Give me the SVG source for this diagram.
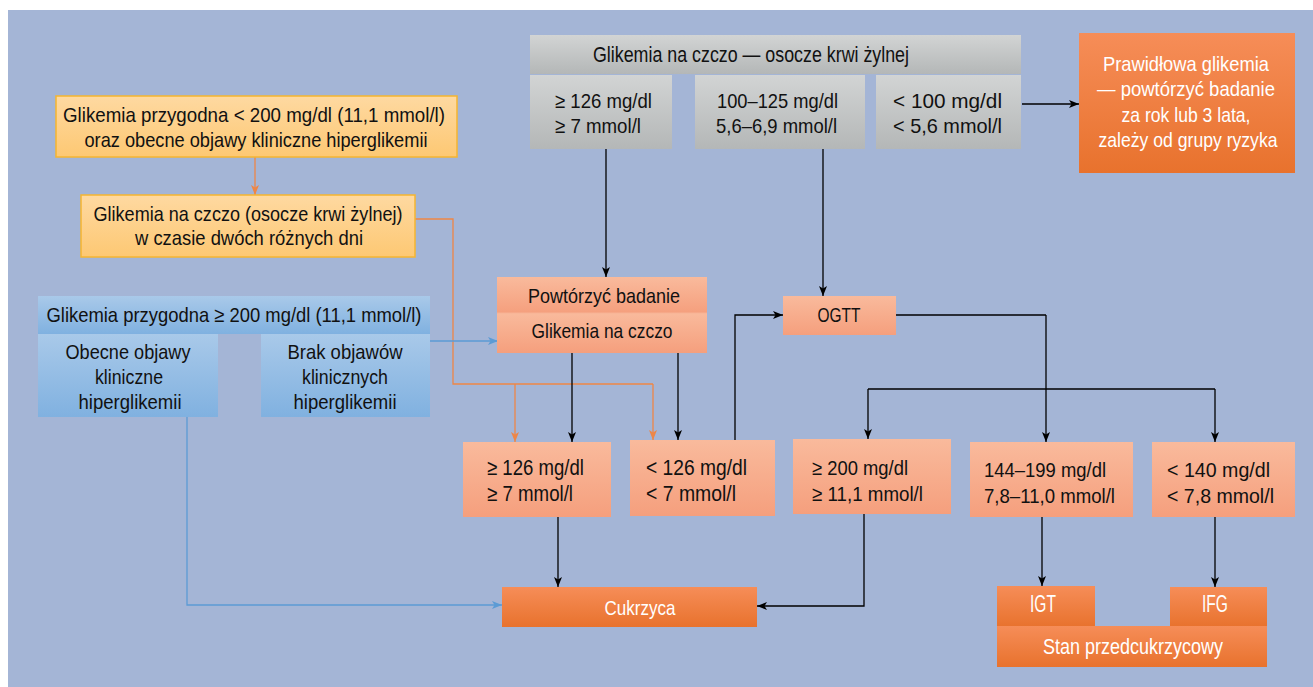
<svg xmlns="http://www.w3.org/2000/svg" width="1313" height="687" viewBox="0 0 1313 687">
<defs>
<linearGradient id="gGray" x1="0" y1="0" x2="0" y2="1"><stop offset="0" stop-color="#d2d4d4"/><stop offset="1" stop-color="#b4b7b7"/></linearGradient>
<linearGradient id="gSalmon" x1="0" y1="0" x2="0" y2="1"><stop offset="0" stop-color="#f9ba9c"/><stop offset="1" stop-color="#f59f7d"/></linearGradient>
<linearGradient id="gOrange" x1="0" y1="0" x2="0" y2="1"><stop offset="0" stop-color="#f68d58"/><stop offset="1" stop-color="#e8722d"/></linearGradient>
<linearGradient id="gYellow" x1="0" y1="0" x2="0" y2="1"><stop offset="0" stop-color="#fed9a1"/><stop offset="1" stop-color="#fdc873"/></linearGradient>
<linearGradient id="gBlue" x1="0" y1="0" x2="0" y2="1"><stop offset="0" stop-color="#a9c9e9"/><stop offset="1" stop-color="#80b1e0"/></linearGradient>
<marker id="aBlack" viewBox="0 0 10 10" refX="10" refY="5" markerWidth="10" markerHeight="10" markerUnits="userSpaceOnUse" orient="auto"><path d="M0,1 L10,5 L0,9 L2.5,5 z" fill="#000"/></marker>
<marker id="aOrange" viewBox="0 0 10 10" refX="10" refY="5" markerWidth="10" markerHeight="10" markerUnits="userSpaceOnUse" orient="auto"><path d="M0,1 L10,5 L0,9 L2.5,5 z" fill="#ee8646"/></marker>
<marker id="aBlue" viewBox="0 0 10 10" refX="10" refY="5" markerWidth="10" markerHeight="10" markerUnits="userSpaceOnUse" orient="auto"><path d="M0,1 L10,5 L0,9 L2.5,5 z" fill="#5b9bd5"/></marker>
</defs>
<style>
text{font-family:"Liberation Sans",Arial,sans-serif;font-size:21px;fill:#111;}
.c{text-anchor:middle;}
.w{fill:#fff;}
.big{font-size:22px;}
.xl{font-size:23px;}
.gray{fill:url(#gGray);}
.sal{fill:url(#gSalmon);}
.org{fill:url(#gOrange);}
.yel{fill:url(#gYellow);stroke:#f5b530;stroke-width:1.5;}
.blu{fill:url(#gBlue);}
.lk{fill:none;stroke:#000;stroke-width:1.3;marker-end:url(#aBlack);}
.lkn{fill:none;stroke:#000;stroke-width:1.3;}
.lo{fill:none;stroke:#ee8646;stroke-width:1.3;marker-end:url(#aOrange);}
.lon{fill:none;stroke:#ee8646;stroke-width:1.3;}
.lb{fill:none;stroke:#5b9bd5;stroke-width:1.3;marker-end:url(#aBlue);}
</style>
<rect x="0" y="0" width="1313" height="687" fill="#fff"/>
<rect x="8" y="10" width="1305" height="677" fill="#a4b5d6"/>

<g id="connectors">
<path class="lk" d="M1022,104 H1079"/>
<path class="lk" d="M606,149 V277"/>
<path class="lk" d="M823,149 V296"/>
<path class="lo" d="M255,157 V195"/>
<path class="lon" d="M415,219 H453 V384 H653"/>
<path class="lo" d="M653,384 V440"/>
<path class="lo" d="M515,384 V442"/>
<path class="lb" d="M430,341 H498"/>
<path class="lb" d="M187,417 V605 H502"/>
<path class="lk" d="M572,353 V442"/>
<path class="lk" d="M678,353 V440"/>
<path class="lk" d="M735,440 V315 H783"/>
<path class="lkn" d="M896,315 H1046"/>
<path class="lk" d="M1046,315 V442"/>
<path class="lkn" d="M868,389 H1215"/>
<path class="lk" d="M868,389 V439"/>
<path class="lk" d="M1215,389 V442"/>
<path class="lk" d="M558,517 V587"/>
<path class="lk" d="M864,514 V606 H757"/>
<path class="lk" d="M1042,517 V586"/>
<path class="lk" d="M1215,517 V587"/>
</g>

<g id="n-fasting-header"><rect class="gray" x="530" y="35" width="491" height="39"/><text class="c big" x="751" y="62" textLength="316" lengthAdjust="spacingAndGlyphs">Glikemia na czczo — osocze krwi żylnej</text></g>
<g id="n-fast-high"><rect class="gray" x="530" y="75" width="142" height="74"/><text x="555" y="108" textLength="97" lengthAdjust="spacingAndGlyphs">≥ 126 mg/dl</text><text x="555" y="133" textLength="86" lengthAdjust="spacingAndGlyphs">≥ 7 mmol/l</text></g>
<g id="n-fast-mid"><rect class="gray" x="695" y="75" width="170" height="74"/><text x="717" y="108" textLength="121" lengthAdjust="spacingAndGlyphs">100–125 mg/dl</text><text x="716" y="133" textLength="121" lengthAdjust="spacingAndGlyphs">5,6–6,9 mmol/l</text></g>
<g id="n-fast-low"><rect class="gray" x="876" y="75" width="145" height="74"/><text x="893" y="108" textLength="109" lengthAdjust="spacingAndGlyphs">&lt; 100 mg/dl</text><text x="893" y="133" textLength="109" lengthAdjust="spacingAndGlyphs">&lt; 5,6 mmol/l</text></g>
<g id="n-normal"><rect class="org" x="1079" y="33" width="216" height="140"/>
<text class="c w" x="1186" y="71" textLength="166" lengthAdjust="spacingAndGlyphs">Prawidłowa glikemia</text>
<text class="c w" x="1186" y="96" textLength="178" lengthAdjust="spacingAndGlyphs">— powtórzyć badanie</text>
<text class="c w" x="1186" y="122" textLength="129" lengthAdjust="spacingAndGlyphs">za rok lub 3 lata,</text>
<text class="c w" x="1188" y="147" textLength="179" lengthAdjust="spacingAndGlyphs">zależy od grupy ryzyka</text></g>

<g id="n-random-low"><rect class="yel" x="56" y="96" width="401" height="61"/><text class="c" x="254" y="122" textLength="382" lengthAdjust="spacingAndGlyphs">Glikemia przygodna &lt; 200 mg/dl (11,1 mmol/l)</text><text class="c" x="256" y="147" textLength="343" lengthAdjust="spacingAndGlyphs">oraz obecne objawy kliniczne hiperglikemii</text></g>
<g id="n-fasting-two-days"><rect class="yel" x="81" y="195" width="334" height="62"/><text class="c" x="248" y="221" textLength="309" lengthAdjust="spacingAndGlyphs">Glikemia na czczo (osocze krwi żylnej)</text><text class="c" x="249" y="245" textLength="228" lengthAdjust="spacingAndGlyphs">w czasie dwóch różnych dni</text></g>

<g id="n-random-high"><rect class="blu" x="38" y="296" width="392" height="38"/><text class="c" x="234" y="322" textLength="375" lengthAdjust="spacingAndGlyphs">Glikemia przygodna ≥ 200 mg/dl (11,1 mmol/l)</text></g>
<g id="n-symptoms"><rect class="blu" x="38" y="334" width="180" height="83"/><text class="c" x="128" y="359" textLength="125" lengthAdjust="spacingAndGlyphs">Obecne objawy</text><text class="c" x="129" y="384" textLength="68" lengthAdjust="spacingAndGlyphs">kliniczne</text><text class="c" x="130" y="409" textLength="103" lengthAdjust="spacingAndGlyphs">hiperglikemii</text></g>
<g id="n-no-symptoms"><rect class="blu" x="261" y="334" width="169" height="83"/><text class="c" x="345" y="359" textLength="115" lengthAdjust="spacingAndGlyphs">Brak objawów</text><text class="c" x="345" y="384" textLength="86" lengthAdjust="spacingAndGlyphs">klinicznych</text><text class="c" x="345" y="409" textLength="103" lengthAdjust="spacingAndGlyphs">hiperglikemii</text></g>

<g id="n-repeat"><rect class="sal" x="497" y="277" width="210" height="36"/><rect class="sal" x="497" y="313" width="210" height="40"/><rect x="497" y="312.5" width="210" height="1" fill="#f7b194"/><text class="c" x="604" y="303" textLength="152" lengthAdjust="spacingAndGlyphs">Powtórzyć badanie</text><text class="c" x="602" y="338" textLength="141" lengthAdjust="spacingAndGlyphs">Glikemia na czczo</text></g>
<g id="n-ge126"><rect class="sal" x="463" y="442" width="148" height="75"/><text class="big" x="487" y="475" textLength="97" lengthAdjust="spacingAndGlyphs">≥ 126 mg/dl</text><text class="big" x="487" y="501" textLength="86" lengthAdjust="spacingAndGlyphs">≥ 7 mmol/l</text></g>
<g id="n-lt126"><rect class="sal" x="630" y="440" width="145" height="76"/><text class="big" x="646" y="475" textLength="101" lengthAdjust="spacingAndGlyphs">&lt; 126 mg/dl</text><text class="big" x="646" y="501" textLength="90" lengthAdjust="spacingAndGlyphs">&lt; 7 mmol/l</text></g>
<g id="n-ogtt"><rect class="sal" x="783" y="296" width="113" height="39"/><text class="c" x="839" y="322" textLength="43" lengthAdjust="spacingAndGlyphs">OGTT</text></g>
<g id="n-ge200"><rect class="sal" x="793" y="439" width="158" height="75"/><text x="812" y="475" textLength="96" lengthAdjust="spacingAndGlyphs">≥ 200 mg/dl</text><text x="812" y="501" textLength="111" lengthAdjust="spacingAndGlyphs">≥ 11,1 mmol/l</text></g>
<g id="n-144-199"><rect class="sal" x="970" y="442" width="163" height="75"/><text x="984" y="477" textLength="122" lengthAdjust="spacingAndGlyphs">144–199 mg/dl</text><text x="984" y="503" textLength="131" lengthAdjust="spacingAndGlyphs">7,8–11,0 mmol/l</text></g>
<g id="n-lt140"><rect class="sal" x="1152" y="442" width="143" height="75"/><text x="1167" y="477" textLength="103" lengthAdjust="spacingAndGlyphs">&lt; 140 mg/dl</text><text x="1167" y="503" textLength="107" lengthAdjust="spacingAndGlyphs">&lt; 7,8 mmol/l</text></g>

<g id="n-diabetes"><rect class="org" x="502" y="587" width="255" height="40"/><text class="c w" x="640" y="615" textLength="71" lengthAdjust="spacingAndGlyphs">Cukrzyca</text></g>
<g id="n-igt"><rect class="org" x="997" y="586" width="98" height="41"/><text class="c w xl" x="1043" y="612" textLength="26" lengthAdjust="spacingAndGlyphs">IGT</text></g>
<g id="n-ifg"><rect class="org" x="1170" y="587" width="97" height="40"/><text class="c w xl" x="1215" y="612" textLength="26" lengthAdjust="spacingAndGlyphs">IFG</text></g>
<g id="n-prediabetes"><rect class="org" x="997" y="626" width="270" height="41"/><text class="c w big" x="1133" y="654" textLength="180" lengthAdjust="spacingAndGlyphs">Stan przedcukrzycowy</text></g>
</svg>
